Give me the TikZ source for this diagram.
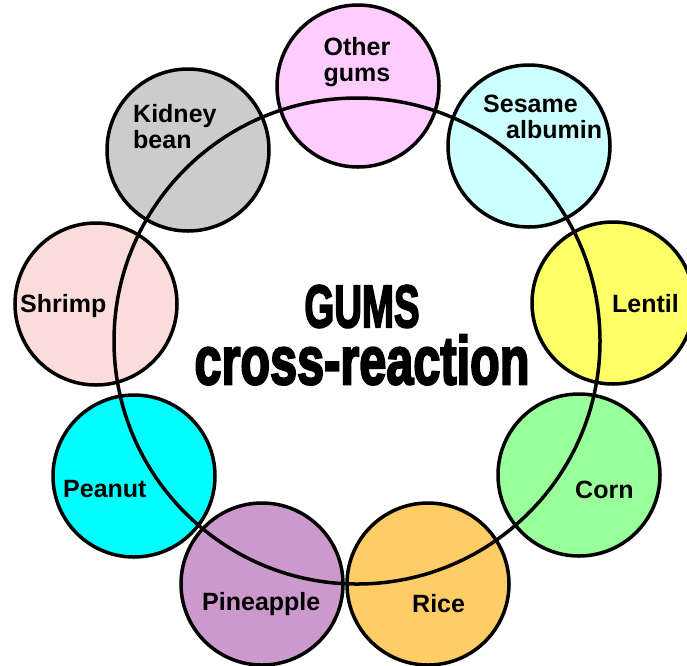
\documentclass[tikz,border=0pt]{standalone}
\usepackage{fontspec}
\usepackage{graphicx}
\setmainfont{Liberation Sans}
\newfontfamily\heavyfont{Liberation Sans Bold}[FakeBold=3.5]

\definecolor{gumpink}{RGB}{255,204,255}
\definecolor{beangray}{RGB}{204,204,204}
\definecolor{sesamecyan}{RGB}{204,255,255}
\definecolor{lentilyellow}{RGB}{255,255,102}
\definecolor{corngreen}{RGB}{153,255,153}
\definecolor{riceorange}{RGB}{255,204,102}
\definecolor{pineapplepurple}{RGB}{204,153,204}
\definecolor{peanutcyan}{RGB}{0,255,255}
\definecolor{shrimppink}{RGB}{250,220,218}

\tikzset{
  allergen/.style={circle, draw=black, line width=3.5pt, minimum size=162pt, inner sep=0pt},
  tag/.style={font=\fontsize{25}{26}\selectfont\bfseries, inner sep=0pt},
}

\begin{document}
\begin{tikzpicture}[x=1pt, y=-1pt]
    \useasboundingbox (0,0) rectangle (687,665);
    \clip (0,0) rectangle (687,665);

    %% 外圈的九个圆
    % 1. 上方
    \node[allergen, fill=gumpink] (gums) at (358,86) {};
    \node[allergen, fill=sesamecyan] (sesame) at (529,146) {};
    \node[allergen, fill=beangray] (bean) at (188,150) {};
    % 2. 两侧
    \node[allergen, fill=lentilyellow] (lentil) at (613,303) {};
    \node[allergen, fill=shrimppink] (shrimp) at (96,304) {};
    \node[allergen, fill=corngreen] (corn) at (579,475) {};
    \node[allergen, fill=peanutcyan] (peanut) at (134,476) {};
    % 3. 下方
    \node[allergen, fill=pineapplepurple] (pineapple) at (262,584) {};
    \node[allergen, fill=riceorange] (rice) at (428,584) {};

    %% 大圆
    \coordinate (hub) at (357,341);
    \draw[line width=3.5pt] (hub) circle[radius=243pt];

    %% 标签
    \node[tag, align=center] (gums-txt) at (357,62) {Other\\gums};
    \node[tag, align=left, anchor=west] (bean-txt) at (133,127) {Kidney\\bean};
    \node[tag, align=left, anchor=west] (sesame-txt) at (483,117) {Sesame\\\hspace*{23pt}albumin};
    \node[tag, anchor=base west] (lentil-txt) at (612,312) {Lentil};
    \node[tag, anchor=base west] (shrimp-txt) at (20,312) {Shrimp};
    \node[tag, anchor=base west] (corn-txt) at (575,498) {Corn};
    \node[tag, anchor=base west] (peanut-txt) at (63,497) {Peanut};
    \node[tag, anchor=base west] (pineapple-txt) at (202,610) {Pineapple};
    \node[tag, anchor=base west] (rice-txt) at (412,612) {Rice};

    %% 中间标题
    \node[align=center, inner sep=0pt, font=\heavyfont\fontsize{60}{57}\selectfont] (title) at (362,335)
      {\scalebox{0.64}[1]{GUMS}\\
       \scalebox{0.715}[1]{\fontsize{68}{57}\selectfont cross-reaction}};

\end{tikzpicture}
\end{document}
